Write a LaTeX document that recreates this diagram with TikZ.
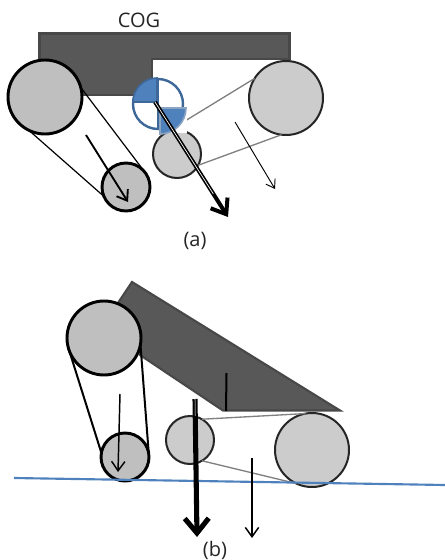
\documentclass[tikz,border=0pt]{standalone}
\usepackage{fontspec}
\setmainfont{Open Sans}
\usetikzlibrary{arrows.meta,calc}
\definecolor{bodygray}{HTML}{585858}
\definecolor{bodyedge}{HTML}{484848}
\definecolor{cogblue}{HTML}{4F81BD}
\definecolor{cogedge}{HTML}{3D6899}
\tikzset{
  labeltext/.style={font=\fontsize{15pt}{18pt}\selectfont,text=black!85,inner sep=0pt},
  body/.style={fill=bodygray,draw=bodyedge,line width=1.6pt,line join=miter},
  blackwheel/.style={circle,draw=black,line width=2.2pt,fill=black!25,inner sep=0pt,outer sep=0pt},
  graywheel/.style={circle,draw=black!85,line width=1.5pt,fill=black!20,inner sep=0pt,outer sep=0pt},
  bigsize/.style={minimum size=55.5pt},
  smallsize/.style={minimum size=36pt},
  blackbelt/.style={draw=black,line width=0.9pt},
  graybelt/.style={draw=black!50,line width=1pt},
  thinarrow/.style={draw=black,line width=0.7pt,-{Straight Barb[length=6pt,width=8pt]}},
  midarrow/.style={draw=black,line width=1.4pt,-{Straight Barb[length=7pt,width=10pt]}},
  heavyarrow/.style={draw=black,line width=3pt,-{Straight Barb[length=10pt,width=15pt]}},
}
\begin{document}
\begin{tikzpicture}[x=0.75pt,y=-0.75pt]
\useasboundingbox (0,0) rectangle (445,560);
% (a)
\node[labeltext] (coglabel) at (139,20) {COG};
\node[labeltext] (caseA) at (195,241) {(a)};
\draw[body] (39.5,33.5) -- (289.5,33.5) -- (289.5,59) -- (152,59) -- (152,95) -- (39.5,95) -- cycle;
\node[blackwheel,bigsize] (rearA) at (45,97) {};
\node[blackwheel,smallsize] (idlerA) at (126,187) {};
\node[graywheel,bigsize] (frontA) at (286,98) {};
\node[graywheel,smallsize] (sprocketA) at (177,154) {};
\draw[blackbelt] (rearA.15) -- (idlerA.36);
\draw[blackbelt] (rearA.244) -- (idlerA.203);
\draw[graybelt] (frontA.148) -- (sprocketA.118);
\draw[graybelt] (frontA.-97) -- (sprocketA.-28);
\fill[white] (160,108) rectangle (187,133);
% COG mark
\draw[cogedge,line width=1.8pt] (158,104) circle (25);
\draw[fill=cogblue,draw=cogedge,line width=1.2pt] (157,102) -- (133,102) arc (180:270:24) -- cycle;
\draw[fill=cogblue,draw=cogedge!60!white,line width=1.2pt] (160,108) -- (186,108) arc (0:90:26) -- cycle;
\draw[cogedge,line width=1pt] (158,80) -- (158,129);
\coordinate (cogA) at (155,102);
\coordinate (tipA) at (228,217);
\coordinate (rearfromA) at (86,135);
\coordinate (reartoA) at (128,202);
\coordinate (frontfromA) at (235,122);
\coordinate (fronttoA) at (275,189);
\draw[midarrow] (rearfromA) -- (reartoA);
\draw[thinarrow] (frontfromA) -- (fronttoA);
\draw[heavyarrow] (cogA) -- (tipA);
\draw[white,line width=0.5pt] (cogA) -- ($(cogA)!0.8!(tipA)$);
% (b)
\node[labeltext] (caseB) at (215,550) {(b)};
\draw[body] (132,282) -- (340,410.5) -- (223,410.5) -- (140,355) -- (118,303) -- cycle;
\node[blackwheel,bigsize] (rearB) at (104,338) {};
\node[blackwheel,smallsize] (idlerB) at (125,457) {};
\node[graywheel,bigsize] (frontB) at (312,450) {};
\node[graywheel,smallsize] (sprocketB) at (190,440) {};
\draw[blackbelt,line width=1.5pt] (rearB.195) -- (idlerB.170);
\draw[blackbelt,line width=1.5pt] (rearB.-10) -- (idlerB.8);
\draw[graybelt] (frontB.100) -- (sprocketB.60);
\draw[graybelt] (frontB.-115) -- (sprocketB.-60);
\coordinate (strutbot) at (226,411);
\coordinate (struttop) at (226.5,373);
\draw[black,line width=1.5pt] (struttop) -- (strutbot);
\coordinate (groundL) at (14,478);
\coordinate (groundR) at (445,485);
\draw[cogblue,line width=1.6pt] (groundL) -- (groundR);
\coordinate (rearfromB) at (120,394);
\coordinate (reartoB) at (118,472);
\coordinate (cogB) at (195,399);
\coordinate (tipB) at (197,537);
\coordinate (frontfromB) at (252,458);
\coordinate (fronttoB) at (252,538);
\draw[midarrow,line width=1.1pt] (rearfromB) -- (reartoB);
\draw[midarrow,line width=1.1pt] (frontfromB) -- (fronttoB);
\draw[heavyarrow,line width=3.8pt,-{Straight Barb[length=11pt,width=18pt]}] (cogB) -- (tipB);
\draw[white,line width=0.4pt] (cogB) -- ($(cogB)!0.12!(tipB)$);
\end{tikzpicture}
\end{document}
